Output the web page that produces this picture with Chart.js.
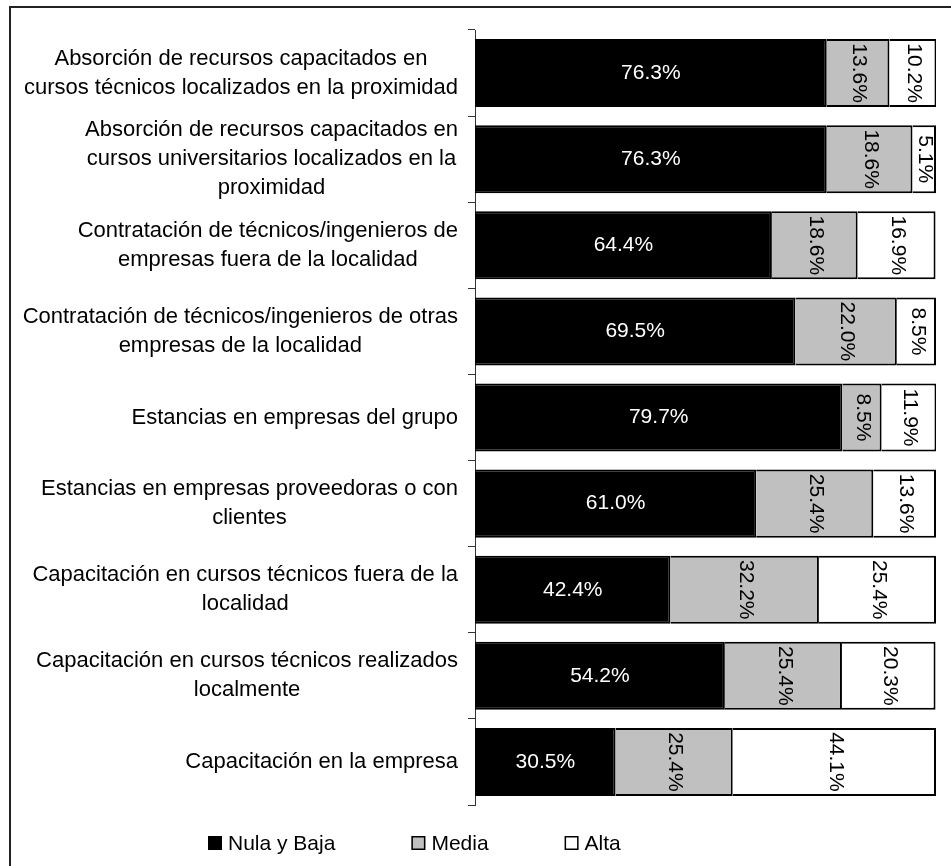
<!DOCTYPE html>
<html>
<head>
<meta charset="utf-8">
<script src="https://cdn.jsdelivr.net/npm/chart.js@4"></script>
<style>
  html, body { margin: 0; padding: 0; background: #fff; overflow: hidden; }
  #wrap { position: relative; width: 951px; height: 866px; }
  #frame { position: absolute; left: 9px; top: 6px; width: 1000px; height: 1000px; border: 2px solid #222; }
  #chart { position: absolute; left: 0; top: 0; }
</style>
</head>
<body>
<div id="wrap">
  <div id="frame"></div>
  <canvas id="chart" width="951" height="866"></canvas>
</div>
<script>
// categories, top to bottom; each entry is already split into lines
const categories = [
  ['Absorción de recursos capacitados en', 'cursos técnicos localizados en la proximidad'],
  ['Absorción de recursos capacitados en', 'cursos universitarios localizados en la', 'proximidad'],
  ['Contratación de técnicos/ingenieros de', 'empresas fuera de la localidad'],
  ['Contratación de técnicos/ingenieros de otras', 'empresas de la localidad'],
  ['Estancias en empresas del grupo'],
  ['Estancias en empresas proveedoras o con', 'clientes'],
  ['Capacitación en cursos técnicos fuera de la', 'localidad'],
  ['Capacitación en cursos técnicos realizados', 'localmente'],
  ['Capacitación en la empresa']
];

const seriesNames = ['Nula y Baja', 'Media', 'Alta'];
const nulaBaja = [76.3, 76.3, 64.4, 69.5, 79.7, 61.0, 42.4, 54.2, 30.5];
const media = [13.6, 18.6, 18.6, 22.0, 8.5, 25.4, 32.2, 25.4, 25.4];
const alta = [10.2, 5.1, 16.9, 8.5, 11.9, 13.6, 25.4, 20.3, 44.1];

const FONT = '"Liberation Sans", Arial, sans-serif';

// category labels: block right-aligned against the axis, lines centred inside the block
const categoryLabels = {
  id: 'categoryLabels',
  afterDraw(chart) {
    const ctx = chart.ctx;
    const scale = chart.scales.y;
    const right = scale.right - 17;
    const lineH = 29;
    ctx.save();
    ctx.font = '22px ' + FONT;
    ctx.fillStyle = '#000';
    ctx.textAlign = 'center';
    ctx.textBaseline = 'middle';
    chart.data.labels.forEach((lines, i) => {
      const w = Math.max(...lines.map(l => ctx.measureText(l).width));
      const cx = right - w / 2;
      const cy = scale.getPixelForTick(i);
      lines.forEach((line, j) => {
        ctx.fillText(line, cx, cy + (j - (lines.length - 1) / 2) * lineH);
      });
    });
    ctx.restore();
  }
};

// percentages inside the segments: first series flat in white, others turned 90°
const valueLabels = {
  id: 'valueLabels',
  afterDatasetsDraw(chart) {
    const ctx = chart.ctx;
    ctx.save();
    ctx.font = '21px ' + FONT;
    ctx.textAlign = 'center';
    ctx.textBaseline = 'middle';
    chart.data.datasets.forEach((ds, di) => {
      const meta = chart.getDatasetMeta(di);
      meta.data.forEach((bar, i) => {
        const p = bar.getProps(['x', 'y', 'base'], true);
        const cx = (p.x + p.base) / 2;
        const text = ds.data[i].toFixed(1) + '%';
        if (di === 0) {
          ctx.fillStyle = '#fff';
          ctx.fillText(text, cx, p.y);
        } else {
          ctx.fillStyle = '#000';
          ctx.save();
          ctx.translate(cx + 1, p.y);
          ctx.rotate(Math.PI / 2);
          ctx.fillText(text, 0, 0);
          ctx.restore();
        }
      });
    });
    ctx.restore();
  }
};

// legend row under the plot
const legendRow = {
  id: 'legendRow',
  afterDraw(chart) {
    const ctx = chart.ctx;
    const box = 14;
    const y = 843;
    let x = 208;
    ctx.save();
    ctx.font = '21px ' + FONT;
    ctx.textBaseline = 'middle';
    ctx.textAlign = 'left';
    chart.data.datasets.forEach(ds => {
      ctx.fillStyle = ds.backgroundColor;
      ctx.fillRect(x, y - box / 2, box, box);
      ctx.lineWidth = 1.5;
      ctx.strokeStyle = '#000';
      ctx.strokeRect(x + 0.75, y - box / 2 + 0.75, box - 1.5, box - 1.5);
      ctx.fillStyle = '#000';
      ctx.fillText(ds.label, x + box + 6, y + 1);
      x += box + 6 + ctx.measureText(ds.label).width + 76;
    });
    ctx.restore();
  }
};

new Chart(document.getElementById('chart').getContext('2d'), {
  type: 'bar',
  data: {
    labels: categories,
    datasets: [
      { label: seriesNames[0], data: nulaBaja, backgroundColor: '#000000', borderColor: '#000000', borderWidth: 2, borderSkipped: 'left' },
      { label: seriesNames[1], data: media, backgroundColor: '#c0c0c0', borderColor: '#000000', borderWidth: 2, borderSkipped: 'left' },
      { label: seriesNames[2], data: alta, backgroundColor: '#ffffff', borderColor: '#000000', borderWidth: 2, borderSkipped: 'left' }
    ]
  },
  options: {
    indexAxis: 'y',
    responsive: false,
    animation: false,
    devicePixelRatio: 1,
    layout: {
      padding: { top: 30, right: 15, bottom: 61, left: 0 }
    },
    datasets: {
      bar: { categoryPercentage: 1, barPercentage: 0.79 }
    },
    plugins: {
      legend: { display: false },
      tooltip: { enabled: false }
    },
    scales: {
      x: {
        stacked: true,
        min: 0,
        max: 100,
        display: false
      },
      y: {
        stacked: true,
        afterFit: (scale) => { scale.width = 475; },
        ticks: { display: false },
        grid: {
          drawOnChartArea: false,
          drawTicks: true,
          tickLength: 7,
          color: '#333',
          offset: true
        },
        border: { display: true, color: '#333', width: 1 }
      }
    }
  },
  plugins: [categoryLabels, valueLabels, legendRow]
});
</script>
</body>
</html>
